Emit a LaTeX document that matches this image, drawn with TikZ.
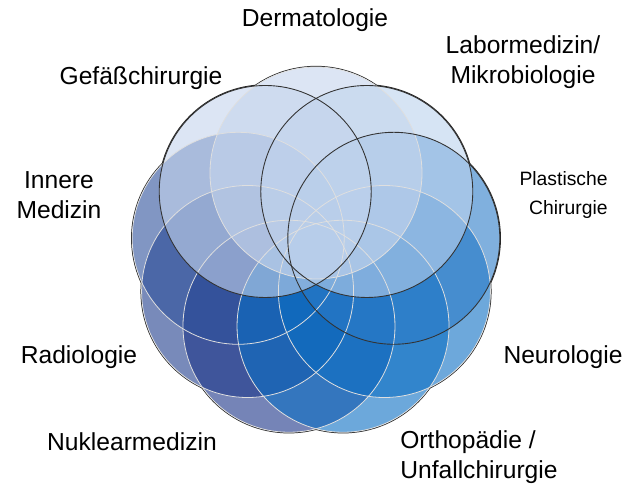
\documentclass[tikz,border=0pt]{standalone}
\usepackage{fontspec}
\setmainfont{Liberation Sans}
\usepackage{xcolor}
\usetikzlibrary{positioning}
\definecolor{radioblue}{HTML}{1E3C8C}
\definecolor{nuklblue}{HTML}{193287}
\definecolor{innereblue}{HTML}{2D509B}
\definecolor{orthoblue}{HTML}{0A6EC3}
\definecolor{neuroblue}{HTML}{0C6EC3}
\definecolor{plastblue}{HTML}{2C7CC8}
\definecolor{gefblue}{HTML}{C5D5ED}
\definecolor{laborblue}{HTML}{BBD2ED}
\definecolor{dermblue}{HTML}{C5D5ED}
\tikzset{petal/.style={circle,fill opacity=0.6,minimum size=4.24cm,inner sep=0pt},
  rand/.style={draw=black!85,line width=1.3pt},
  kante/.style={draw=white!75!gray,line width=0.45pt},
  fach/.style={font=\fontsize{14}{17}\selectfont,inner sep=0pt,align=center}}

\begin{document}
\begin{tikzpicture}
 \useasboundingbox (-6.32,-4.74) rectangle (6.22,5.04);
 \coordinate (pderm) at (90:1.58);
 \coordinate (plabor) at (50:1.58);
 \coordinate (pplast) at (10:1.58);
 \coordinate (pneuro) at (-30:1.58);
 \coordinate (portho) at (-70:1.58);
 \coordinate (pnukl) at (-110:1.58);
 \coordinate (pradio) at (-150:1.58);
 \coordinate (pinnere) at (170:1.58);
 \coordinate (pgef) at (130:1.58);
 % dunkler Aussenrand, innen weiss abgedeckt
 \foreach \p in {pderm,plabor,pplast,pneuro,portho,pnukl,pradio,pinnere,pgef}
  \draw[rand] (\p) circle[radius=2.12cm];
 \foreach \p in {pderm,plabor,pplast,pneuro,portho,pnukl,pradio,pinnere,pgef}
  \fill[white] (\p) circle[radius=2.12cm];
 % Kreise, hell liegt oben
 \node[petal,fill=radioblue] (radio) at (pradio) {};
 \node[petal,fill=nuklblue] (nukl) at (pnukl) {};
 \node[petal,fill=innereblue] (innere) at (pinnere) {};
 \node[petal,fill=orthoblue] (ortho) at (portho) {};
 \node[petal,fill=neuroblue] (neuro) at (pneuro) {};
 \node[petal,fill=plastblue] (plast) at (pplast) {};
 \node[petal,fill=gefblue] (gef) at (pgef) {};
 \node[petal,fill=laborblue] (labor) at (plabor) {};
 \node[petal,fill=dermblue] (derm) at (pderm) {};
 \foreach \p in {pradio,pnukl,pinnere,portho,pneuro,pderm}
  \draw[kante] (\p) circle[radius=2.12cm];
 \foreach \p in {pplast,pgef,plabor}
  \draw[draw=black!80,line width=0.5pt] (\p) circle[radius=2.12cm];
 % Fachgebiete
 \node[fach] (tderm) at (-0.02,4.64) {Dermatologie};
 \node[fach] (tlabor) at (4.14,3.8) {Labormedizin/\\Mikrobiologie};
 \node[fach] (tgef) at (-3.5,3.48) {Gefäßchirurgie};
 \node[fach] (tinnere) at (-5.14,1.14) {Innere\\Medizin};
 \node[fach,anchor=east,align=right,font=\fontsize{11}{17}\selectfont]
  (tplast) at (5.84,1.14) {Plastische\\Chirurgie};
 \node[fach] (tradio) at (-4.74,-2.1) {Radiologie};
 \node[fach] (tneuro) at (4.94,-2.1) {Neurologie};
 \node[fach] (tnukl) at (-3.68,-3.8) {Nuklearmedizin};
 \node[fach,anchor=west,align=left] (tortho) at (1.68,-4.1)
  {Orthopädie /\\Unfallchirurgie};
\end{tikzpicture}
\end{document}
